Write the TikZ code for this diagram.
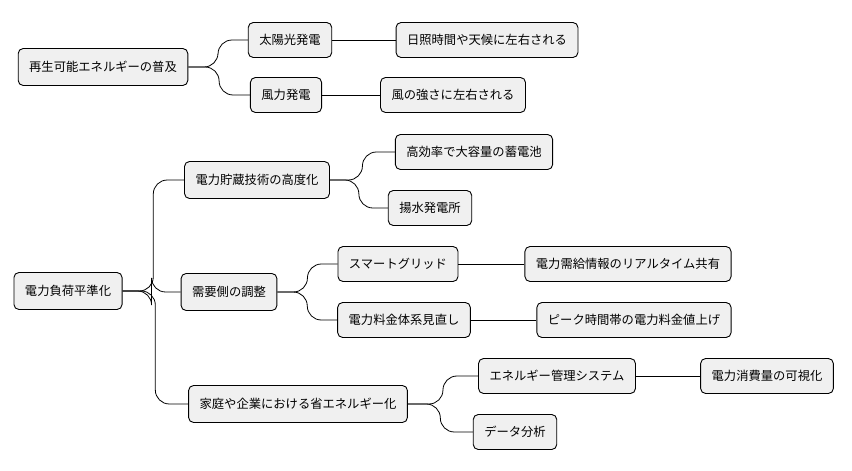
\documentclass[tikz,border=0pt]{standalone}
\usepackage{fontspec}
\setmainfont{Noto Sans CJK JP}
\usetikzlibrary{calc}
\begin{document}
\begin{tikzpicture}[x=1pt,y=-1pt,
  box/.style={draw=black,line width=0.9pt,fill=black!6,rounded corners=5pt,
    font=\fontsize{12.3}{14}\selectfont,inner xsep=11pt,inner ysep=0pt,minimum height=35pt},
  root/.style={box,minimum height=37pt},
  conn/.style={line width=0.8pt,rounded corners=14pt}]
\useasboundingbox (0,0) rectangle (852,471);
\node[root] (r1) at (103,67) {再生可能エネルギーの普及};
\node[box] (a1) at (290,40) {太陽光発電};
\node[box] (a2) at (487,40) {日照時間や天候に左右される};
\node[box] (b1) at (286,95) {風力発電};
\node[box] (b2) at (453,95) {風の強さに左右される};
\node[root] (r2) at (68,291) {電力負荷平準化};
\node[root] (c1) at (257,180) {電力貯蔵技術の高度化};
\node[box] (c2) at (474,152) {高効率で大容量の蓄電池};
\node[box] (c3) at (430,208) {揚水発電所};
\node[root] (d1) at (229,292) {需要側の調整};
\node[box] (d2) at (398,264) {スマートグリッド};
\node[box] (d3) at (628,264) {電力需給情報のリアルタイム共有};
\node[box] (d4) at (404,320) {電力料金体系見直し};
\node[box] (d5) at (634,320) {ピーク時間帯の電力料金値上げ};
\node[root] (e1) at (298,404) {家庭や企業における省エネルギー化};
\node[box] (e2) at (557,376) {エネルギー管理システム};
\node[box] (e3) at (767,376) {電力消費量の可視化};
\node[box] (e4) at (515,432) {データ分析};
\foreach \pa/\ch in {r1/a1,r1/b1,r2/c1,r2/d1,r2/e1,c1/c2,c1/c3,d1/d2,d1/d4,e1/e2,e1/e4}{
  \draw[conn] let \p1=(\pa.east),\p2=(\ch.west) in (\p1) -- ({(\x1+\x2)/2},\y1) |- (\p2);
}
\foreach \pa/\ch in {a1/a2,b1/b2,d2/d3,d4/d5,e2/e3}{
  \draw[line width=0.8pt] (\pa.east) -- (\ch.west);
}
\end{tikzpicture}
\end{document}
